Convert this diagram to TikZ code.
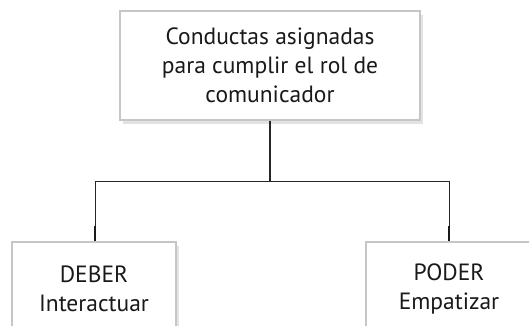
\documentclass[tikz,border=0pt]{standalone}
\usepackage{fontspec}
\setmainfont{PT Sans}
\usetikzlibrary{shadows}
\begin{document}
\begin{tikzpicture}[x=1pt,y=1pt,
  box/.style={draw=gray!45, line width=1.6pt, fill=white, align=center,
    font=\fontsize{23.5}{29}\selectfont, text=black!90,
    drop shadow={opacity=0.22, shadow xshift=3pt, shadow yshift=-4pt}},
  conn/.style={draw=black!85, line width=0.8pt},
  stub/.style={draw=black!90, line width=2.4pt}]
\useasboundingbox (0,0) rectangle (529,-325);
\clip (0,0) rectangle (529,-325);
\node[box, minimum width=300pt, minimum height=109pt, anchor=north] (top) at (270,-10)
  {Conductas asignadas\\para cumplir el rol de\\comunicador};
\node[box, minimum width=164pt, minimum height=94pt, anchor=north] (left) at (94,-241)
  {DEBER\\Interactuar};
\node[box, minimum width=166pt, minimum height=94pt, anchor=north] (right) at (449,-241)
  {PODER\\Empatizar};
\coordinate (j) at (270,-181);
\coordinate (jl) at (95,-181);
\coordinate (jr) at (449,-181);
\coordinate (sl) at (95,-226);
\coordinate (sr) at (449,-226);
\draw[conn, line width=1.3pt] (top.south) -- (j);
\draw[conn] (jl) -- (jr);
\draw[conn] (jl) -- (sl);
\draw[conn] (jr) -- (sr);
\draw[stub] (sl) -- (left.north -| sl);
\draw[stub] (sr) -- (right.north -| sr);
\end{tikzpicture}
\end{document}
